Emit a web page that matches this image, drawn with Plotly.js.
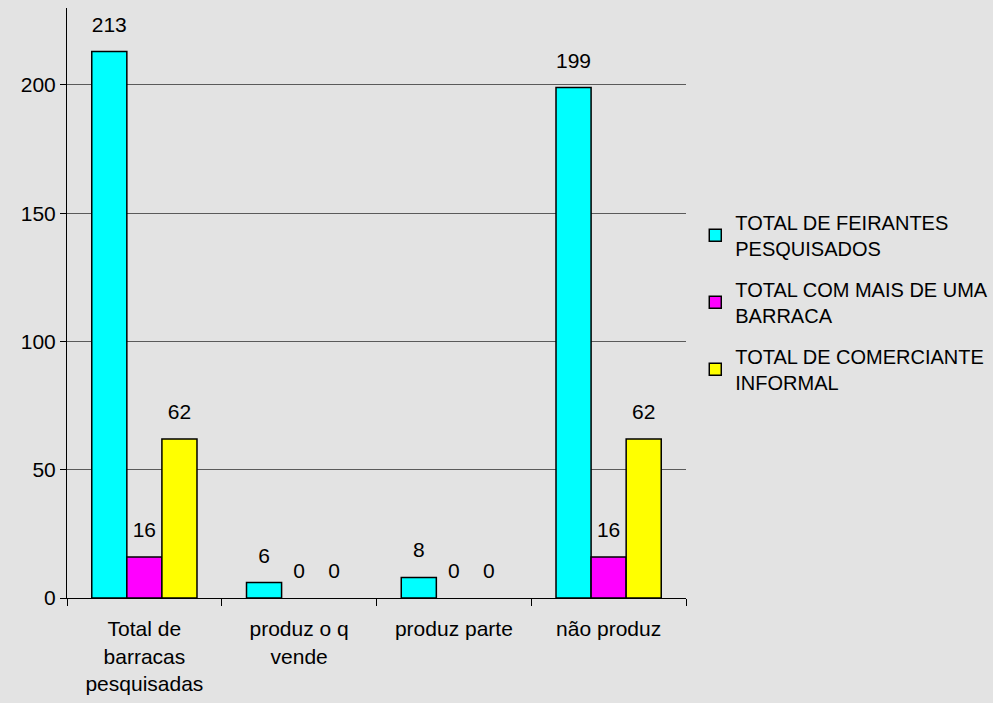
<!DOCTYPE html>
<html>
<head>
<meta charset="utf-8">
<script src="https://cdn.plot.ly/plotly-3.0.1.min.js"></script>
<style>html,body{margin:0;padding:0;background:#e3e3e3;}#chart{width:993px;height:703px;}</style>
</head>
<body>
<div id="chart"></div>
<script>
const categories = ["Total de<br>barracas<br>pesquisadas", "produz o q<br>vende", "produz parte", "não produz"];
const seriesNames = ["TOTAL DE FEIRANTES<br>PESQUISADOS", "TOTAL COM MAIS DE UMA<br>BARRACA", "TOTAL DE COMERCIANTE<br>INFORMAL"];
const feirantes = [213, 6, 8, 199];
const maisDeUma = [16, 0, 0, 16];
const comerciante = [62, 0, 0, 62];
const colors = ["#00ffff", "#ff00ff", "#ffff00"];
const yTicks = [0, 50, 100, 150, 200];

const seriesValues = [feirantes, maisDeUma, comerciante];
const font = "Liberation Sans, Arial, sans-serif";
const traces = [];
seriesValues.forEach((vals, i) => {
  traces.push({
    type: "bar", x: categories, y: vals, name: seriesNames[i],
    legendgroup: "g" + i,
    offsetgroup: "o" + i,
    marker: {color: colors[i], line: {color: "#000", width: vals.map(v => v ? 1.5 : 0)}},
    hoverinfo: "skip"
  });
});
seriesValues.forEach((vals, i) => {
  traces.push({
    type: "scatter", mode: "markers+text", x: categories, y: vals,
    offsetgroup: "o" + i,
    text: vals.map(String), textposition: "top center",
    textfont: {family: font, size: 21, color: "#000"},
    marker: {size: 22, color: "rgba(0,0,0,0)"},
    showlegend: false, hoverinfo: "skip", cliponaxis: false
  });
});

const layout = {
  width: 993, height: 703,
  paper_bgcolor: "#e3e3e3", plot_bgcolor: "#e3e3e3",
  margin: {l: 67, r: 307, t: 8, b: 105, autoexpand: false},
  barmode: "group", bargap: 0.32, bargroupgap: 0,
  scattermode: "group", scattergap: 0.32,
  font: {family: font, size: 21, color: "#000"},
  showlegend: true,
  legend: {
    x: 1.015, xanchor: "left", y: 0.67, yanchor: "top",
    font: {family: font, size: 20, color: "#000"},
    bgcolor: "rgba(0,0,0,0)", tracegroupgap: 12
  },
  xaxis: {
    type: "category", showgrid: false, zeroline: false,
    showline: true, linecolor: "#000", linewidth: 1,
    ticks: "outside", tickson: "boundaries", ticklen: 7, tickcolor: "#000",
    ticklabelstandoff: 12,
    tickfont: {family: font, size: 21, color: "#000"}
  },
  yaxis: {
    range: [0, 230], tickvals: yTicks, ticktext: yTicks.map(String),
    showgrid: true, gridcolor: "#5a5a5a", gridwidth: 1,
    zeroline: false, showline: true, linecolor: "#000", linewidth: 1,
    ticks: "outside", ticklen: 6, tickcolor: "#000",
    tickfont: {family: font, size: 21, color: "#000"}
  }
};
Plotly.newPlot("chart", traces, layout, {displayModeBar: false, staticPlot: true});
</script>
</body>
</html>
